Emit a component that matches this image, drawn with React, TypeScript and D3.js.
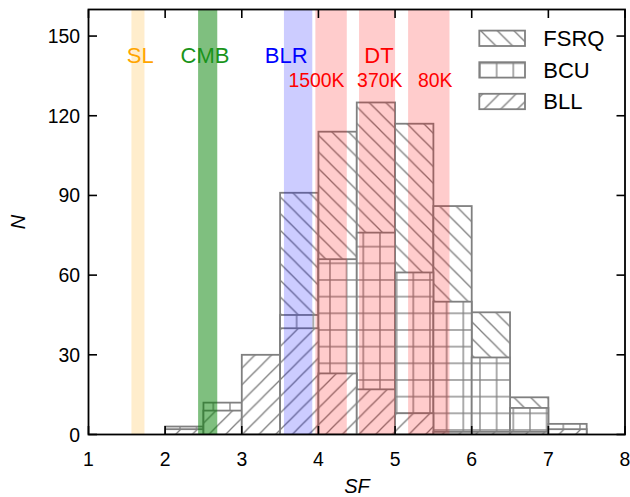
import React from "react";
import * as d3 from "d3";

const W = 630;
const H = 497;
const M = { left: 88.5, right: 625, top: 9.5, bottom: 434.5 };

const binStarts = [2.0, 2.5, 3.0, 3.5, 4.0, 4.5, 5.0, 5.5, 6.0, 6.5, 7.0];
const binWidth = 0.5;
const fsrq = [0, 0, 0, 91, 114, 125, 117, 86, 46, 14, 0];
const bcu = [3, 12, 0, 45, 66, 76, 61, 50, 29, 10, 4];
const bll = [2, 9, 30, 40, 23, 17, 8, 1, 1, 1, 2];

const xTicks = [1, 2, 3, 4, 5, 6, 7, 8];
const yTicks = [0, 30, 60, 90, 120, 150];

const bandLo = [1.56, 2.43, 3.55, 3.96, 4.53, 5.17];
const bandHi = [1.73, 2.68, 3.92, 4.37, 5.0, 5.71];
const bandColor = ["#FFA500", "#008000", "#0000FF", "#FF0000", "#FF0000", "#FF0000"];
const bandAlpha = [0.2, 0.5, 0.2, 0.2, 0.2, 0.2];

const labelText = ["SL", "CMB", "BLR", "DT", "1500K", "370K", "80K"];
const labelX = [1.676, 2.52, 3.58, 4.79, 3.975, 4.8, 5.525];
const labelY = [140, 140, 140, 140, 131, 131, 131];
const labelColor = ["#FFA500", "#1a941a", "#0000FF", "#FF0000", "#FF0000", "#FF0000", "#FF0000"];
const labelSize = [22, 22, 22, 22, 19.4, 19.4, 19.4];

const seriesNames = ["FSRQ", "BCU", "BLL"];
const seriesHatch = ["hFSRQ", "hBCU", "hBLL"];

const EDGE = "#808080";
const T = 16.667;
const FONT = "'Liberation Sans', Arial, sans-serif";

export default function App() {
  const x = d3.scaleLinear().domain([1, 8]).range([M.left, M.right]);
  const y = d3.scaleLinear().domain([0, 160]).range([M.bottom, M.top]);
  const series = [fsrq, bcu, bll];

  const bars = (vals: number[], hatch: string, key: string) =>
    vals.map((v, i) =>
      v > 0 ? (
        <g key={key + i}>
          <rect
            x={x(binStarts[i])}
            y={y(v)}
            width={x(binStarts[i] + binWidth) - x(binStarts[i])}
            height={y(0) - y(v)}
            fill="white"
          />
          <rect
            x={x(binStarts[i])}
            y={y(v)}
            width={x(binStarts[i] + binWidth) - x(binStarts[i])}
            height={y(0) - y(v)}
            fill={`url(#${hatch})`}
            stroke={EDGE}
            strokeWidth={1.8}
          />
        </g>
      ) : null
    );

  return (
    <svg width={W} height={H} style={{ position: "absolute", left: 0, top: 0 }} fontFamily={FONT}>
      <defs>
        <pattern id="hFSRQ" patternUnits="userSpaceOnUse" x={13.3} y={13.3} width={T} height={T}>
          <line x1={-1} y1={-1} x2={T + 1} y2={T + 1} stroke={EDGE} strokeWidth={1.3} />
          <line x1={T - 2} y1={-2} x2={T + 2} y2={2} stroke={EDGE} strokeWidth={1.3} />
          <line x1={-2} y1={T - 2} x2={2} y2={T + 2} stroke={EDGE} strokeWidth={1.3} />
        </pattern>
        <pattern id="hBLL" patternUnits="userSpaceOnUse" x={13.3} y={13.3} width={T} height={T}>
          <line x1={-1} y1={T + 1} x2={T + 1} y2={-1} stroke={EDGE} strokeWidth={1.3} />
          <line x1={-2} y1={2} x2={2} y2={-2} stroke={EDGE} strokeWidth={1.3} />
          <line x1={T - 2} y1={T + 2} x2={T + 2} y2={T - 2} stroke={EDGE} strokeWidth={1.3} />
        </pattern>
        <pattern id="hBCU" patternUnits="userSpaceOnUse" x={13.3} y={13.3} width={T} height={T}>
          <line x1={0} y1={-1} x2={0} y2={T + 1} stroke={EDGE} strokeWidth={1.3} />
          <line x1={T} y1={-1} x2={T} y2={T + 1} stroke={EDGE} strokeWidth={1.3} />
          <line x1={-1} y1={0} x2={T + 1} y2={0} stroke={EDGE} strokeWidth={1.3} />
          <line x1={-1} y1={T} x2={T + 1} y2={T} stroke={EDGE} strokeWidth={1.3} />
        </pattern>
        <clipPath id="plotClip">
          <rect x={M.left} y={M.top} width={M.right - M.left} height={M.bottom - M.top} />
        </clipPath>
      </defs>

      <rect x={0} y={0} width={W} height={H} fill="white" />

      <g clipPath="url(#plotClip)">
        {series.map((s, k) => bars(s, seriesHatch[k], seriesNames[k]))}
        {bandLo.map((lo, i) => (
          <rect
            key={"band" + i}
            x={x(lo)}
            y={M.top}
            width={x(bandHi[i]) - x(lo)}
            height={M.bottom - M.top}
            fill={bandColor[i]}
            fillOpacity={bandAlpha[i]}
          />
        ))}
      </g>

      {labelText.map((t, i) => (
        <text
          key={"lab" + i}
          x={x(labelX[i])}
          y={y(labelY[i])}
          fill={labelColor[i]}
          fontSize={labelSize[i]}
          textAnchor="middle"
        >
          {t}
        </text>
      ))}

      {/* legend */}
      {seriesNames.map((n, i) => {
        const cy = 38.3 + i * 31.6;
        return (
          <g key={"leg" + n}>
            <rect x={479.3} y={cy - 7.7} width={45.7} height={15.4} fill="white" />
            <rect
              x={479.3}
              y={cy - 7.7}
              width={45.7}
              height={15.4}
              fill={`url(#${seriesHatch[i]})`}
              stroke={EDGE}
              strokeWidth={1.8}
            />
            <text x={543.3} y={cy + 7.8} fontSize={22} fill="black">
              {n}
            </text>
          </g>
        );
      })}

      {/* frame */}
      <rect
        x={M.left}
        y={M.top}
        width={M.right - M.left}
        height={M.bottom - M.top}
        fill="none"
        stroke="black"
        strokeWidth={1.8}
      />

      {/* ticks */}
      {xTicks.map((t) => (
        <g key={"xt" + t}>
          <line x1={x(t)} x2={x(t)} y1={M.bottom} y2={M.bottom - 8.5} stroke="black" strokeWidth={1.6} />
          <line x1={x(t)} x2={x(t)} y1={M.top} y2={M.top + 8.5} stroke="black" strokeWidth={1.6} />
          <text x={x(t)} y={466} fontSize={19.4} textAnchor="middle" fill="black">
            {t}
          </text>
        </g>
      ))}
      {yTicks.map((t) => (
        <g key={"yt" + t}>
          <line x1={M.left} x2={M.left + 8.5} y1={y(t)} y2={y(t)} stroke="black" strokeWidth={1.6} />
          <line x1={M.right} x2={M.right - 8.5} y1={y(t)} y2={y(t)} stroke="black" strokeWidth={1.6} />
          <text x={80} y={y(t) + 7} fontSize={19.4} textAnchor="end" fill="black">
            {t}
          </text>
        </g>
      ))}

      <text x={357} y={493} fontSize={20} fontStyle="italic" textAnchor="middle" fill="black">
        SF
      </text>
      <text
        transform={`translate(25, 222) rotate(-90)`}
        fontSize={20}
        fontStyle="italic"
        textAnchor="middle"
        fill="black"
      >
        N
      </text>
    </svg>
  );
}
